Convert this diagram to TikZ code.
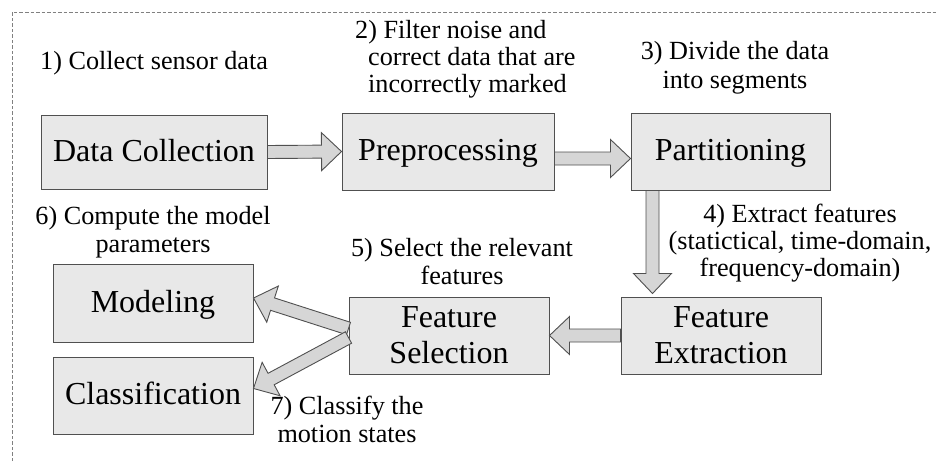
\documentclass[tikz,border=0pt]{standalone}
\usepackage{fontspec}
\setmainfont{Liberation Serif}
\usetikzlibrary{calc}
\definecolor{boxfill}{HTML}{E8E8E8}
\definecolor{arrfill}{HTML}{D6D6D6}
\definecolor{boxline}{HTML}{505050}
\definecolor{frameline}{HTML}{808080}
\newcommand{\blockarr}[2]{%
  \coordinate (bah) at ($(#2)!20pt!(#1)$);
  \draw[blockarrow] ($(#1)!6.5pt!90:(#2)$) -- ($(bah)!6.5pt!90:(#2)$) -- ($(bah)!19pt!90:(#2)$) -- (#2)
    -- ($(bah)!19pt!-90:(#2)$) -- ($(bah)!6.5pt!-90:(#2)$) -- ($(#1)!6.5pt!-90:(#2)$) -- cycle;
}
\tikzset{
  stagebox/.style={draw=boxline, fill=boxfill, line width=1pt, inner sep=0pt, align=center,
    font=\fontsize{32}{36}\selectfont},
  oneline/.style={text height=24pt, text depth=6pt},
  blockarrow/.style={draw=boxline, fill=arrfill, line width=0.9pt, line join=miter},
  lbl/.style={inner sep=0pt, font=\fontsize{26.2}{28}\selectfont},
}
\begin{document}
\begin{tikzpicture}[x=1pt,y=-1pt]
\useasboundingbox (0,0) rectangle (938,461);
\fill[white] (0,0) rectangle (938,461);
\draw[frameline, line width=1pt, dash pattern=on 3.5pt off 2pt] (12,461) -- (12,12) -- (938,12);

\node[stagebox, oneline, minimum width=226pt, minimum height=74pt] (dc) at (154,152) {Data Collection};
\node[stagebox, oneline, minimum width=212pt, minimum height=77pt] (pre) at (448,151.5) {Preprocessing};
\node[stagebox, oneline, minimum width=199pt, minimum height=77pt] (part) at (730.5,151.5) {Partitioning};
\node[stagebox, minimum width=200pt, minimum height=77pt] (fe) at (721,335.5) {Feature\\Extraction};
\node[stagebox, minimum width=200pt, minimum height=77pt] (fs) at (449,335.5) {Feature\\Selection};
\node[stagebox, oneline, minimum width=200pt, minimum height=78pt] (mod) at (153,303) {Modeling};
\node[stagebox, oneline, minimum width=200pt, minimum height=77pt] (cls) at (153,395.5) {Classification};

\blockarr{dc.east}{pre.west}
\coordinate (a2s) at ($(pre.east)+(0,7)$);
\coordinate (a2e) at ($(part.west)+(0,7)$);
\blockarr{a2s}{a2e}
\coordinate (a3s) at ($(part.south west)+(22,0)$);
\coordinate (a3e) at ($(a3s |- fe.north)+(0,-3)$);
\blockarr{a3s}{a3e}
\blockarr{fe.west}{fs.east}
\coordinate (a5s) at ($(fs.west)+(0,-7)$);
\coordinate (a5e) at ($(mod.east)+(0,-5)$);
\blockarr{a5s}{a5e}
\coordinate (a6s) at ($(fs.west)+(0,2)$);
\coordinate (a6e) at ($(cls.east)+(0,-7)$);
\blockarr{a6s}{a6e}

\node[lbl, anchor=base west] (l1) at (40,69) {1) Collect sensor data};
\node[lbl, anchor=north west, align=left, font=\fontsize{26.2}{27}\selectfont] (l2) at (368,20.5)
  {\hspace*{-13pt}2) Filter noise and\\correct data that are\\incorrectly marked};
\node[lbl, anchor=north, align=center, font=\fontsize{26.2}{29}\selectfont] (l3) at (735,41.5)
  {3) Divide the data\\into segments};
\node[lbl, anchor=north, align=center, font=\fontsize{26.2}{27}\selectfont] (l4) at (800,203.5)
  {4) Extract features\\(statictical, time-domain,\\frequency-domain)};
\node[lbl, anchor=north, align=center] (l5) at (462,238.5)
  {5) Select the relevant\\features};
\node[lbl, anchor=north, align=center] (l6) at (153,206.5)
  {6) Compute the model\\parameters};
\node[lbl, anchor=north, align=center] (l7) at (347,395.5)
  {7) Classify the\\motion states};
\end{tikzpicture}
\end{document}
